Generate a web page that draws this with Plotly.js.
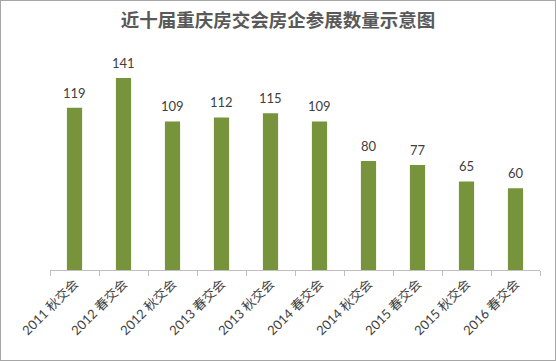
<!DOCTYPE html>
<html><head><meta charset="utf-8">
<script src="https://cdn.plot.ly/plotly-3.0.1.min.js"></script>
<style>html,body{margin:0;padding:0;background:#fff}#c{width:554px;height:359px;border:1px solid #a6a6a6}</style>
</head><body><div id="c"></div>
<script>
const categories = ["2011 秋交会","2012 春交会","2012 秋交会","2013 春交会","2013 秋交会","2014 春交会","2014 秋交会","2015 春交会","2015 秋交会","2016 春交会"];
const values = [119,141,109,112,115,109,80,77,65,60];

const annotations = categories.map((c,i)=>({x:c,y:values[i],text:String(values[i]),showarrow:false,yanchor:'bottom',yshift:5,font:{family:'Lato, "Noto Sans CJK SC"',size:13,color:'#404040'}}));

Plotly.newPlot('c',[{type:'bar',x:categories,y:values,marker:{color:'#77933c'},width:0.31,hoverinfo:'none'}],{
  width:554,height:359,
  margin:{l:49,r:15,t:51,b:90},
  paper_bgcolor:'#fff',plot_bgcolor:'#fff',
  title:{text:'<b>近十届重庆房交会房企参展数量示意图</b>',x:0.5,xanchor:'center',y:0.945,yanchor:'middle',font:{family:'"Noto Sans CJK SC"',size:18.5,color:'#595959'}},
  xaxis:{type:'category',tickangle:-45,showline:true,linecolor:'#bfbfbf',linewidth:1,ticks:'outside',tickson:'boundaries',ticklen:5,tickcolor:'#bfbfbf',showgrid:false,tickfont:{family:'Lato, "Noto Sans CJK SC"',size:13,color:'#404040'},fixedrange:true},
  yaxis:{range:[0,160],visible:false,showgrid:false,zeroline:false,fixedrange:true},
  annotations:annotations,
  showlegend:false
},{displayModeBar:false,staticPlot:true});
</script></body></html>
